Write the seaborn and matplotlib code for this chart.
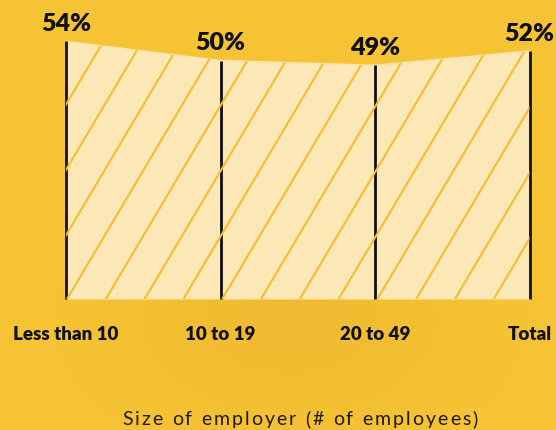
import numpy as np
import pandas as pd
import matplotlib
matplotlib.use("Agg")
import matplotlib.pyplot as plt
import seaborn as sns
from matplotlib.lines import Line2D
from matplotlib.transforms import IdentityTransform
from matplotlib.font_manager import FontProperties, findfont
from matplotlib.ft2font import FT2Font

# ---- data -------------------------------------------------------------
categories = ["Less than 10", "10 to 19", "20 to 49", "Total"]
shares = [54, 50, 49, 52]
value_labels = ["54%", "50%", "49%", "52%"]
axis_title = "Size of employer (# of employees)"

# ---- style ------------------------------------------------------------
W, H = 556, 430
BG = (246, 196, 52)
FILL = "#FBE8B6"
HATCH = "#F4BE2E"
INK = "#111010"

sns.set_theme(style="white")
plt.rcParams["font.family"] = ["Lato", "DejaVu Sans"]

fig = plt.figure(figsize=(W / 100, H / 100), dpi=100)
fig.patch.set_facecolor(np.array(BG) / 255)

# soft shading of the backdrop
bg = fig.add_axes([0, 0, 1, 1], zorder=0)
yy, xx = np.mgrid[0:H, 0:W]
shade = np.exp(-(((xx - 290) / 160.0) ** 2 + ((yy - 320) / 100.0) ** 2))
img = np.empty((H, W, 3))
for i, (c, d) in enumerate(zip(BG, (6, 9, 4))):
    img[..., i] = (c - d * shade) / 255
bg.imshow(img, extent=(0, W, H, 0), aspect="auto")
bg.set_axis_off()

# ---- main axes (pixel-aligned) -----------------------------------------
ax = fig.add_axes([0, 0, 1, 1], zorder=1)
ax.patch.set_alpha(0)
x_left_px, x_right_px = 66, 529.5
px_per_cat = (x_right_px - x_left_px) / (len(categories) - 1)
base_px = H - 299          # baseline height from the bottom
px_per_pct = 4.77
ax.set_xlim(-x_left_px / px_per_cat, (len(categories) - 1) + (W - x_right_px) / px_per_cat)
ax.set_ylim(-base_px / px_per_pct, (H - base_px) / px_per_pct)
ax.set_axis_off()

df = pd.DataFrame({"pos": np.arange(len(categories)), "share": shares})

area = ax.fill_between(df["pos"], 0, df["share"], color=FILL, lw=0, zorder=2)
sns.lineplot(data=df, x="pos", y="share", ax=ax, color=FILL, lw=1, zorder=2)

# diagonal hatching clipped to the area
clip_path = area.get_paths()[0]
dx_per_dy = 35 / 59
rise = H
step = 38.8
for x0 in np.arange(67 - step * 8, W, step):
    ln = Line2D([x0, x0 + dx_per_dy * rise], [base_px, base_px + rise],
                transform=IdentityTransform(), color=HATCH, lw=1.5,
                solid_capstyle="butt", zorder=3)
    ln.set_clip_path(clip_path, ax.transData)
    fig.add_artist(ln)

# vertical markers
ax.vlines(df["pos"], 0, df["share"], color=INK, lw=2.0, zorder=4)

# value labels
for p, v, lab in zip(df["pos"], df["share"], value_labels):
    ax.annotate(lab, (p, v), xytext=(0, 7.5), textcoords="offset points",
                ha="center", va="baseline", fontsize=18, fontweight="heavy",
                color=INK, zorder=5)

# category labels
for p, lab in zip(df["pos"], categories):
    ax.annotate(lab, (p, 0), xytext=(0, -(340 - 299) * 0.72), textcoords="offset points",
                ha="center", va="baseline", fontsize=13.5, fontweight="heavy",
                color=INK, zorder=5)

# letter-spaced axis title
title_prop = FontProperties(family="Lato", weight="normal", size=14)
font = FT2Font(findfont(title_prop))
font.set_size(14, 100)
adv = [font.load_char(ord(ch)).linearHoriAdvance / 65536 for ch in axis_title]
natural = sum(adv)
target_w = 356
spacing = (target_w - natural) / (len(axis_title) - 1)
x = 300 - target_w / 2
for ch, a in zip(axis_title, adv):
    fig.text(x / W, (H - 425) / H, ch, fontproperties=title_prop,
             color="#1E1A14", ha="left", va="baseline")
    x += a + spacing

fig.savefig("out.png", dpi=100, facecolor=fig.get_facecolor())
